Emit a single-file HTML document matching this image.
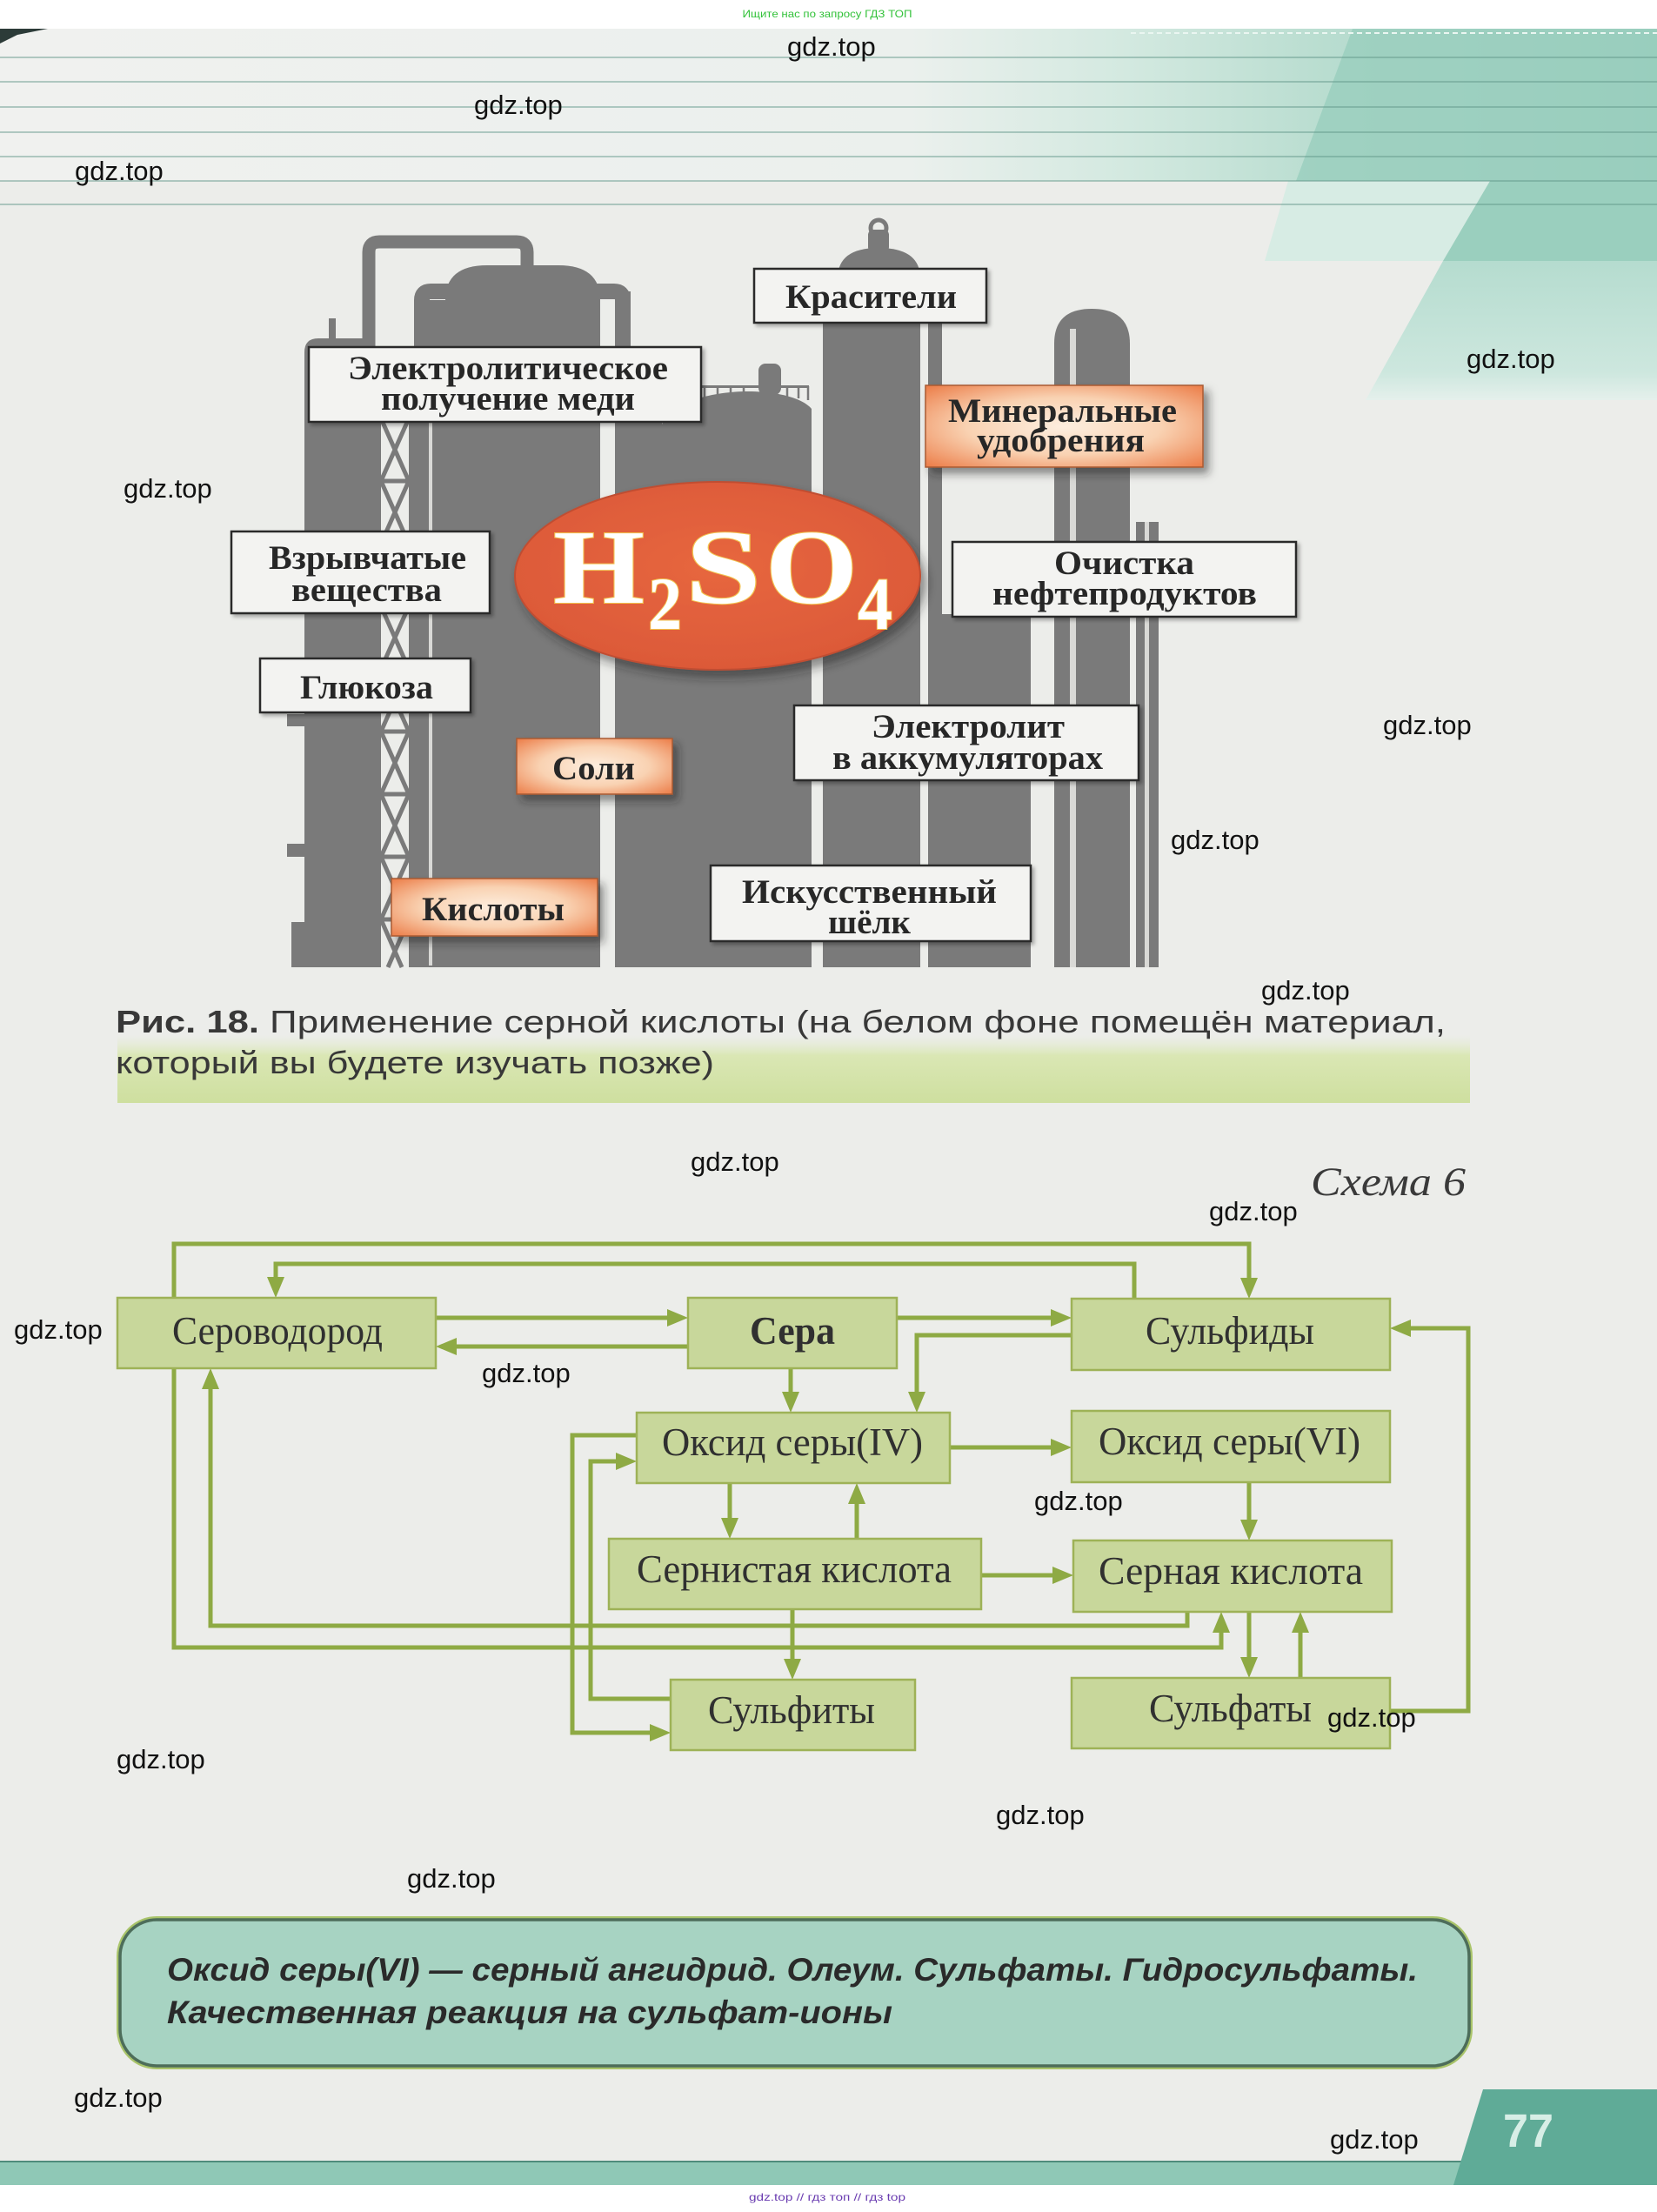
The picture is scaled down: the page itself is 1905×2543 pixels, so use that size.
<!DOCTYPE html>
<html><head><meta charset="utf-8">
<style>
html,body{margin:0;padding:0;background:#fff;}
body{width:1905px;height:2543px;overflow:hidden;}
svg{display:block;}
</style></head>
<body>
<svg width="1905" height="2543" viewBox="0 0 1905 2543" xmlns="http://www.w3.org/2000/svg">
<defs>
  <linearGradient id="hdr" x1="0" y1="0" x2="1" y2="0">
    <stop offset="0" stop-color="#f0f1ef"/>
    <stop offset="0.55" stop-color="#ebf0ed"/>
    <stop offset="0.68" stop-color="#d3e9e0"/>
    <stop offset="0.8" stop-color="#b9ddd0"/>
    <stop offset="1" stop-color="#a5d3c4"/>
  </linearGradient>
  <linearGradient id="wedge" x1="0" y1="0" x2="0" y2="1">
    <stop offset="0" stop-color="#b5dccf"/>
    <stop offset="0.8" stop-color="#cde7de"/>
    <stop offset="1" stop-color="#e5f0ec"/>
  </linearGradient>
  <linearGradient id="cap" x1="0" y1="0" x2="0" y2="1">
    <stop offset="0" stop-color="#e4ecd0" stop-opacity="0"/>
    <stop offset="0.3" stop-color="#dae7b4"/>
    <stop offset="1" stop-color="#cedf9f"/>
  </linearGradient>
  <radialGradient id="org" cx="0.5" cy="0.5" r="0.7">
    <stop offset="0" stop-color="#fdeedf"/>
    <stop offset="0.5" stop-color="#f9d2b2"/>
    <stop offset="1" stop-color="#ec7d48"/>
  </radialGradient>
  <radialGradient id="ell" cx="0.5" cy="0.45" r="0.6">
    <stop offset="0" stop-color="#e7673f"/>
    <stop offset="1" stop-color="#db5838"/>
  </radialGradient>
  <filter id="sh" x="-10%" y="-10%" width="130%" height="140%">
    <feDropShadow dx="3" dy="3" stdDeviation="2" flood-color="#000" flood-opacity="0.3"/>
  </filter>
  <filter id="sho" x="-10%" y="-10%" width="130%" height="150%">
    <feDropShadow dx="6" dy="7" stdDeviation="5" flood-color="#222" flood-opacity="0.5"/>
  </filter>
  <filter id="she" x="-10%" y="-10%" width="130%" height="140%">
    <feDropShadow dx="6" dy="8" stdDeviation="6" flood-color="#222" flood-opacity="0.5"/>
  </filter>
</defs>

<!-- page -->
<rect x="0" y="0" width="1905" height="2543" fill="#ffffff"/>
<rect x="0" y="33" width="1905" height="2479" fill="#ecedea"/>

<!-- header -->
<rect x="0" y="33" width="1905" height="175" fill="url(#hdr)"/>
<polygon points="1555,33 1905,33 1905,208 1490,208" fill="#94ccba" opacity="0.7"/>
<polygon points="1481,208 1713,208 1659,300 1454,300" fill="#d7ece4"/>
<polygon points="1713,208 1905,208 1905,300 1659,300" fill="#9acfbe"/>
<polygon points="1659,300 1905,300 1905,460 1570,460" fill="url(#wedge)"/>
<polygon points="0,33 55,33 20,40 0,50" fill="#2c3b38"/>
<line x1="1300" y1="38" x2="1905" y2="38" stroke="#eaf6f1" stroke-width="2" stroke-dasharray="6 4"/>
<g stroke="#5f9488" stroke-opacity="0.45" stroke-width="2">
  <line x1="0" y1="66" x2="1905" y2="66"/>
  <line x1="0" y1="94" x2="1905" y2="94"/>
  <line x1="0" y1="123" x2="1905" y2="123"/>
  <line x1="0" y1="152" x2="1905" y2="152"/>
  <line x1="0" y1="180" x2="1905" y2="180"/>
  <line x1="0" y1="208" x2="1905" y2="208"/>
  <line x1="0" y1="235" x2="1905" y2="235"/>
</g>

<text x="951" y="20" text-anchor="middle" font-family="Liberation Sans, sans-serif" font-size="12" fill="#33c23a" textLength="195" lengthAdjust="spacingAndGlyphs">Ищите нас по запросу ГДЗ ТОП</text>

<!-- industrial silhouette -->
<g fill="#7a7a7a">
  <path d="M350,1112 V405 Q350,389 366,389 H416 Q432,389 432,405 V1112 Z"/>
  <rect x="378" y="366" width="8" height="24"/>
  <rect x="330" y="821" width="20" height="14"/>
  <rect x="330" y="970" width="20" height="15"/>
  <rect x="335" y="1060" width="15" height="52"/>
  <rect x="432" y="481" width="6" height="631"/>
  <rect x="470" y="481" width="6" height="631"/>
  <rect x="476" y="345" width="36" height="767"/>
  <path d="M512,1112 V345 Q512,305 560,305 H642 Q690,305 690,345 V1112 Z"/>
  <rect x="707" y="335" width="18" height="777"/>
  <rect x="725" y="480" width="36" height="632"/>
  <path d="M761,1112 V488 C770,462 820,450 860,450 C900,450 925,460 933,470 V1112 Z"/>
  <rect x="805" y="443" width="125" height="3"/>
  <rect x="872" y="418" width="26" height="36" rx="8"/>
  <rect x="946" y="366" width="17" height="746"/>
  <path d="M963,1112 V320 Q963,285 1010,285 Q1058,285 1058,320 V1112 Z"/>
  <rect x="998" y="264" width="24" height="26" rx="6"/>
  <rect x="1067" y="369" width="16" height="743"/>
  <rect x="1083" y="706" width="102" height="406"/>
  <path d="M1212,1112 V395 Q1212,355 1255,355 Q1299,355 1299,395 V1112 Z"/>
  <rect x="1306" y="600" width="26" height="512"/>
</g>
<circle cx="1010" cy="262" r="9" fill="none" stroke="#7a7a7a" stroke-width="5"/>
<g stroke="#7a7a7a" stroke-width="2.5">
  <path d="M810,444 v14 M825,444 v14 M840,444 v14 M855,444 v12 M905,444 v12 M918,444 v14 M929,444 v16"/>
</g>
<g fill="none" stroke="#7a7a7a">
  <path d="M424,420 V290 Q424,278 436,278 H594 Q606,278 606,290 V320" stroke-width="15"/>
  <path d="M485,360 V345 Q485,335 495,335 H706 Q716,335 716,345 V360" stroke-width="18"/>
</g>
<g stroke="#7a7a7a" stroke-width="5">
  <path d="M438,481 L470,553 M470,481 L438,553 M438,553 L470,625 M470,553 L438,625 M438,625 L470,697 M470,625 L438,697 M438,697 L470,769 M470,697 L438,769 M438,769 L470,841 M470,769 L438,841 M438,841 L470,913 M470,841 L438,913 M438,913 L470,985 M470,913 L438,985 M438,985 L470,1057 M470,985 L438,1057 M438,1057 L462,1112 M470,1057 L446,1112"/>
  <path d="M438,481 H470 M438,553 H470 M438,625 H470 M438,697 H470 M438,769 H470 M438,841 H470 M438,913 H470 M438,985 H470 M438,1057 H470"/>
</g>
<g fill="#d9d9d6">
  <rect x="493" y="410" width="4" height="700"/>
  <rect x="1230" y="378" width="7" height="734"/>
  <rect x="1316" y="600" width="5" height="512"/>
</g>

<!-- ellipse -->
<ellipse cx="825" cy="662" rx="233" ry="108" fill="url(#ell)" stroke="#c04e31" stroke-width="2" filter="url(#she)"/>
<g font-family="Liberation Serif, serif" font-weight="bold" fill="#ffffff" stroke="#f2c24e" stroke-width="2" paint-order="stroke">
  <text x="636" y="693" font-size="122" textLength="105" lengthAdjust="spacingAndGlyphs">H</text>
  <text x="745" y="723" font-size="86" textLength="39" lengthAdjust="spacingAndGlyphs">2</text>
  <text x="788" y="693" font-size="122" textLength="87" lengthAdjust="spacingAndGlyphs">S</text>
  <text x="880" y="693" font-size="122" textLength="106" lengthAdjust="spacingAndGlyphs">O</text>
  <text x="986" y="723" font-size="86" textLength="40" lengthAdjust="spacingAndGlyphs">4</text>
</g>

<!-- label boxes -->
<g fill="#f3f3f1" stroke="#2b2b2b" stroke-width="2.5" filter="url(#sh)">
  <rect x="867" y="309" width="267" height="62"/>
  <rect x="355" y="399" width="451" height="86"/>
  <rect x="266" y="611" width="297" height="94"/>
  <rect x="1095" y="623" width="395" height="86"/>
  <rect x="299" y="757" width="242" height="62"/>
  <rect x="913" y="811" width="396" height="86"/>
  <rect x="817" y="995" width="368" height="87"/>
</g>
<g fill="url(#org)" stroke="#a95a33" stroke-width="1.5" filter="url(#sho)">
  <rect x="1064" y="443" width="319" height="94"/>
  <rect x="594" y="849" width="179" height="64"/>
  <rect x="450" y="1010" width="237" height="66"/>
</g>
<g font-family="Liberation Serif, serif" font-weight="bold" font-size="39" fill="#272727">
  <text x="903" y="354" textLength="197" lengthAdjust="spacingAndGlyphs">Красители</text>
  <text x="400" y="436" textLength="368" lengthAdjust="spacingAndGlyphs">Электролитическое</text>
  <text x="438" y="471" textLength="292" lengthAdjust="spacingAndGlyphs">получение меди</text>
  <text x="1090" y="485" textLength="263" lengthAdjust="spacingAndGlyphs">Минеральные</text>
  <text x="1123" y="519" textLength="193" lengthAdjust="spacingAndGlyphs">удобрения</text>
  <text x="309" y="654" textLength="227" lengthAdjust="spacingAndGlyphs">Взрывчатые</text>
  <text x="335" y="691" textLength="173" lengthAdjust="spacingAndGlyphs">вещества</text>
  <text x="1212" y="660" textLength="161" lengthAdjust="spacingAndGlyphs">Очистка</text>
  <text x="1141" y="695" textLength="304" lengthAdjust="spacingAndGlyphs">нефтепродуктов</text>
  <text x="345" y="803" textLength="153" lengthAdjust="spacingAndGlyphs">Глюкоза</text>
  <text x="635" y="896" textLength="95" lengthAdjust="spacingAndGlyphs">Соли</text>
  <text x="1002" y="848" textLength="222" lengthAdjust="spacingAndGlyphs">Электролит</text>
  <text x="957" y="884" textLength="311" lengthAdjust="spacingAndGlyphs">в аккумуляторах</text>
  <text x="485" y="1058" textLength="164" lengthAdjust="spacingAndGlyphs">Кислоты</text>
  <text x="853" y="1038" textLength="293" lengthAdjust="spacingAndGlyphs">Искусственный</text>
  <text x="952" y="1073" textLength="95" lengthAdjust="spacingAndGlyphs">шёлк</text>
</g>

<!-- caption -->
<rect x="135" y="1190" width="1555" height="78" fill="url(#cap)"/>
<g font-family="Liberation Sans, sans-serif" font-size="36" fill="#383838">
  <text x="133" y="1187" font-weight="bold" textLength="165" lengthAdjust="spacingAndGlyphs">Рис. 18.</text>
  <text x="310" y="1187" textLength="1352" lengthAdjust="spacingAndGlyphs">Применение серной кислоты (на белом фоне помещён материал,</text>
  <text x="133" y="1234" textLength="688" lengthAdjust="spacingAndGlyphs">который вы будете изучать позже)</text>
</g>

<text x="1507" y="1374" font-family="Liberation Serif, serif" font-style="italic" font-size="47" fill="#3a3a3a" textLength="178" lengthAdjust="spacingAndGlyphs">Схема 6</text>

<!-- schema connectors -->
<g fill="none" stroke="#8eaa44" stroke-width="5" stroke-linejoin="miter">
  <polyline points="200,1492 200,1430 1436,1430 1436,1472"/>
  <polyline points="200,1573 200,1894 1404,1894 1404,1876"/>
  <polyline points="1304,1493 1304,1453 317,1453 317,1470"/>
  <polyline points="501,1515 770,1515"/>
  <polyline points="791,1548 522,1548"/>
  <polyline points="1031,1515 1211,1515"/>
  <polyline points="1232,1535 1054,1535 1054,1603"/>
  <polyline points="909,1573 909,1603"/>
  <polyline points="1092,1664 1211,1664"/>
  <polyline points="839,1705 839,1748"/>
  <polyline points="985,1769 985,1726"/>
  <polyline points="1436,1704 1436,1750"/>
  <polyline points="1128,1811 1213,1811"/>
  <polyline points="911,1850 911,1910"/>
  <polyline points="1365,1853 1365,1869 242,1869 242,1594"/>
  <polyline points="1436,1853 1436,1908"/>
  <polyline points="1495,1929 1495,1874"/>
  <polyline points="1598,1967 1688,1967 1688,1527 1619,1527"/>
  <polyline points="732,1650 658,1650 658,1992 750,1992"/>
  <polyline points="771,1953 679,1953 679,1680 711,1680"/>
</g>
<g fill="#8eaa44">
  <polygon points="1426,1469 1446,1469 1436,1493"/>
  <polygon points="1394,1877 1414,1877 1404,1853"/>
  <polygon points="307,1468 327,1468 317,1492"/>
  <polygon points="767,1505 767,1525 791,1515"/>
  <polygon points="525,1538 525,1558 501,1548"/>
  <polygon points="1208,1505 1208,1525 1232,1515"/>
  <polygon points="1044,1600 1064,1600 1054,1624"/>
  <polygon points="899,1600 919,1600 909,1624"/>
  <polygon points="1208,1654 1208,1674 1232,1664"/>
  <polygon points="829,1745 849,1745 839,1769"/>
  <polygon points="975,1729 995,1729 985,1705"/>
  <polygon points="1426,1747 1446,1747 1436,1771"/>
  <polygon points="1210,1801 1210,1821 1234,1811"/>
  <polygon points="901,1907 921,1907 911,1931"/>
  <polygon points="232,1597 252,1597 242,1573"/>
  <polygon points="1426,1905 1446,1905 1436,1929"/>
  <polygon points="1485,1877 1505,1877 1495,1853"/>
  <polygon points="1622,1517 1622,1537 1598,1527"/>
  <polygon points="747,1982 747,2002 771,1992"/>
  <polygon points="708,1670 708,1690 732,1680"/>
</g>

<!-- schema boxes -->
<g fill="#c8d79b" stroke="#9eb257" stroke-width="2.5">
  <rect x="135" y="1492" width="366" height="81"/>
  <rect x="791" y="1492" width="240" height="81"/>
  <rect x="1232" y="1493" width="366" height="82"/>
  <rect x="732" y="1624" width="360" height="81"/>
  <rect x="1232" y="1622" width="366" height="82"/>
  <rect x="700" y="1769" width="428" height="81"/>
  <rect x="1234" y="1771" width="366" height="82"/>
  <rect x="771" y="1931" width="281" height="81"/>
  <rect x="1232" y="1929" width="366" height="81"/>
</g>
<g font-family="Liberation Serif, serif" font-size="45" fill="#303030">
  <text x="198" y="1545" textLength="242" lengthAdjust="spacingAndGlyphs">Сероводород</text>
  <text x="862" y="1545" font-weight="bold" textLength="98" lengthAdjust="spacingAndGlyphs">Сера</text>
  <text x="1317" y="1545" textLength="194" lengthAdjust="spacingAndGlyphs">Сульфиды</text>
  <text x="761" y="1673" textLength="300" lengthAdjust="spacingAndGlyphs">Оксид серы(IV)</text>
  <text x="1263" y="1672" textLength="301" lengthAdjust="spacingAndGlyphs">Оксид серы(VI)</text>
  <text x="732" y="1819" textLength="362" lengthAdjust="spacingAndGlyphs">Сернистая кислота</text>
  <text x="1263" y="1821" textLength="304" lengthAdjust="spacingAndGlyphs">Серная кислота</text>
  <text x="814" y="1981" textLength="192" lengthAdjust="spacingAndGlyphs">Сульфиты</text>
  <text x="1321" y="1979" textLength="187" lengthAdjust="spacingAndGlyphs">Сульфаты</text>
</g>

<!-- rounded topic box -->
<rect x="138" y="2207" width="1551" height="168" rx="42" ry="42" fill="none" stroke="#a9c46a" stroke-width="8"/>
<rect x="138" y="2207" width="1551" height="168" rx="42" ry="42" fill="#a7d3c2" stroke="#4d6d5a" stroke-width="3.5"/>
<g font-family="Liberation Sans, sans-serif" font-weight="bold" font-style="italic" font-size="37" fill="#2a2a2a">
  <text x="192" y="2277" textLength="1438" lengthAdjust="spacingAndGlyphs">Оксид серы(VI) — серный ангидрид. Олеум. Сульфаты. Гидросульфаты.</text>
  <text x="192" y="2326" textLength="834" lengthAdjust="spacingAndGlyphs">Качественная реакция на сульфат-ионы</text>
</g>

<!-- bottom band & page tab -->
<rect x="0" y="2484" width="1905" height="28" fill="#8fc8b6"/>
<line x1="0" y1="2485" x2="1905" y2="2485" stroke="#4e8b7b" stroke-width="2"/>
<polygon points="1705,2402 1905,2402 1905,2512 1671,2512" fill="#5fab97"/>
<text x="1728" y="2468" font-family="Liberation Sans, sans-serif" font-weight="bold" font-size="54" fill="#d7eee6" textLength="58" lengthAdjust="spacingAndGlyphs">77</text>
<rect x="0" y="2512" width="1905" height="31" fill="#ffffff"/>
<text x="951" y="2530" text-anchor="middle" font-family="Liberation Sans, sans-serif" font-size="12" fill="#6a3cb0" textLength="180" lengthAdjust="spacingAndGlyphs">gdz.top // гдз топ // гдз top</text>

<!-- watermarks -->
<g font-family="Liberation Sans, sans-serif" font-size="31" fill="#111111">
  <text x="905" y="64">gdz.top</text>
  <text x="545" y="131">gdz.top</text>
  <text x="86" y="207">gdz.top</text>
  <text x="1686" y="423">gdz.top</text>
  <text x="142" y="572">gdz.top</text>
  <text x="1590" y="844">gdz.top</text>
  <text x="1346" y="976">gdz.top</text>
  <text x="1450" y="1149">gdz.top</text>
  <text x="794" y="1346">gdz.top</text>
  <text x="1390" y="1403">gdz.top</text>
  <text x="16" y="1539">gdz.top</text>
  <text x="554" y="1589">gdz.top</text>
  <text x="1189" y="1736">gdz.top</text>
  <text x="134" y="2033">gdz.top</text>
  <text x="1526" y="1985">gdz.top</text>
  <text x="1145" y="2097">gdz.top</text>
  <text x="468" y="2170">gdz.top</text>
  <text x="85" y="2422">gdz.top</text>
  <text x="1529" y="2470">gdz.top</text>
</g>
</svg>
</body></html>
